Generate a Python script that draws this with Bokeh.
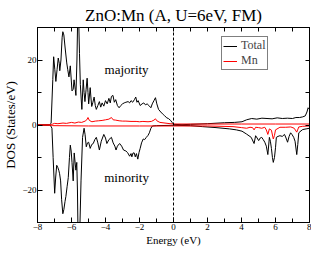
from bokeh.plotting import figure
from bokeh.models import Range1d, FixedTicker, LinearAxis, Span, Label, Legend, LegendItem
from bokeh.embed import file_html
from bokeh.resources import INLINE

title_text = "ZnO:Mn (A, U=6eV, FM)"
x_ticks = [-8, -6, -4, -2, 0, 2, 4, 6, 8]
x_minor = [-7, -5, -3, -1, 1, 3, 5, 7]
y_ticks = [-20, 0, 20]
y_minor = [-30, -10, 10, 30]

# Total DOS, majority spin
e_tot_up = [-8.0, -7.3, -7.2, -7.1, -7.05, -6.98, -6.92, -6.85, -6.78, -6.72, -6.69, -6.62, -6.55, -6.51,
            -6.45, -6.38, -6.28, -6.22, -6.15, -6.07, -5.97, -5.9, -5.85, -5.78, -5.74, -5.68, -5.64,
            -5.58, -5.53, -5.48, -5.43, -5.39, -5.31, -5.26, -5.21, -5.14, -5.08, -5.03, -4.99, -4.9,
            -4.85, -4.81, -4.74, -4.67, -4.6, -4.54, -4.45, -4.36, -4.28, -4.2, -4.1, -4.0, -3.9, -3.8,
            -3.72, -3.65, -3.56, -3.48, -3.4, -3.3, -3.2, -3.1, -3.0, -2.9, -2.8, -2.67, -2.58, -2.5,
            -2.4, -2.3, -2.22, -2.15, -2.08, -1.96, -1.85, -1.75, -1.65, -1.55, -1.45, -1.33, -1.25,
            -1.15, -1.06, -0.98, -0.88, -0.75, -0.6, -0.53, -0.4, -0.3, -0.17, -0.08, 0.0, 0.5, 1.0,
            2.0, 3.0, 3.6, 4.03, 4.3, 4.6, 4.9, 5.2, 5.5, 5.8, 6.1, 6.4, 6.7, 7.0, 7.2, 7.42, 7.6,
            7.75, 7.85, 7.92, 8.0]
dos_tot_up = [0, 0, 0.5, 14, 21, 17, 13.4, 17, 20.6, 19, 16.7, 20, 27, 28.7,
              27.7, 24, 19.1, 17, 14.8, 18.2, 10.5, 11, 13.9, 11, 9.1, 20, 32,
              33, 22, 12.5, 8, 4.8, 13.9, 10, 7.2, 11, 14.4, 10, 6.5, 11.5,
              8, 5.7, 7, 8.6, 6, 4.8, 6, 7.2, 5.5, 6.8, 5.8, 7.5, 6.5, 8.2,
              6.8, 8.8, 9.1, 7, 7.8, 6, 5.3, 6, 6.5, 6.8, 7, 7.2, 6.8, 7.5,
              7, 7.8, 8.6, 7, 7.5, 6, 6.5, 6.8, 6.2, 6.5, 6, 5.3, 6.5,
              7.5, 8.4, 6.5, 4.8, 4, 3.2, 2.9, 2.2, 2, 1.4, 0.8, 0.2, 0.1, 0.2,
              0.4, 0.7, 0.8, 1.0, 1.6, 2.0, 1.8, 2.1, 2.0, 1.9, 2.2, 2.0, 2.1, 2.0, 2.3, 2.3, 2.5,
              2.8, 4, 5.3, 4.8]

# Total DOS, minority spin
e_tot_dn = [-8.0, -7.25, -7.15, -7.08, -6.99, -6.93, -6.87, -6.81, -6.75, -6.7, -6.64, -6.58, -6.51,
            -6.45, -6.38, -6.33, -6.26, -6.19, -6.12, -6.07, -6.02, -5.97, -5.9, -5.84, -5.78, -5.74,
            -5.69, -5.65, -5.62, -5.51, -5.44, -5.35, -5.26, -5.2, -5.13, -5.06, -4.99, -4.9, -4.81,
            -4.72, -4.63, -4.54, -4.45, -4.36, -4.25, -4.1, -4.0, -3.92, -3.8, -3.65, -3.55, -3.45,
            -3.38, -3.3, -3.17, -3.05, -2.94, -2.8, -2.7, -2.58, -2.5, -2.45, -2.38, -2.31, -2.25,
            -2.18, -2.1, -2.03, -1.96, -1.88, -1.78, -1.7, -1.6, -1.5, -1.42, -1.33, -1.24, -1.0, 0.0,
            1.0, 1.7, 2.5, 3.3, 3.7, 4.03, 4.3, 4.57, 4.74, 4.83, 4.92, 5.01, 5.1, 5.19, 5.28, 5.37,
            5.46, 5.55, 5.64, 5.7, 5.76, 5.82, 5.87, 5.94, 6.0, 6.05, 6.15, 6.26, 6.4, 6.53, 6.62,
            6.71, 6.8, 6.89, 6.98, 7.07, 7.15, 7.25, 7.31, 7.37, 7.5, 7.6, 7.8, 8.0]
dos_tot_dn = [0, 0, -1, -10, -21, -16, -12.4, -13, -13.9, -15, -17.2, -23, -27.3,
              -26, -23.5, -22, -19, -16.2, -10, -6.2, -8, -11.5, -17.2, -8.6, -12, -13.9,
              -11.5, -20, -32, -32, -17.2, -3.8, -1, -3, -6.7, -5.5, -5.3, -7.2, -6,
              -5.7, -4.5, -3.8, -5.5, -7.7, -5, -2.9, -4, -5.7, -4.5, -3.8, -5.5, -6.5,
              -7.7, -6.5, -5.7, -6.5, -7.7, -8, -8.5, -9.6, -8.8, -9.8, -8.6, -8.6, -9.8,
              -8.8, -10.5, -8.5, -7.2, -5.5, -4.3, -4.5, -3.8, -3.2, -2.4, -1, -0.3, -0.2, -0.1,
              -0.2, -0.5, -0.8, -1.2, -1.5, -1.9, -2.8, -3.8, -5.7, -3.3, -4, -4.8, -4, -3.8, -4.5, -5.3,
              -6.5, -9.1, -3.8, -5, -7.2, -10, -11.5, -10, -7, -3.8, -3.5, -3.3, -3.5, -2.9, -4,
              -5.3, -3.5, -2.4, -3, -3.8, -5, -9.1, -6, -2.4, -1.8, -1.4, -1.2, -1.0]

# Mn projected DOS, majority spin
e_mn_up = [-8.0, -7.2, -7.1, -7.0, -6.8, -6.5, -6.3, -6.0, -5.8, -5.6, -5.4, -5.2, -5.1, -5.03,
           -4.95, -4.8, -4.6, -4.4, -4.2, -4.0, -3.8, -3.65, -3.55, -3.4, -3.2, -3.0, -2.8, -2.5,
           -2.2, -2.0, -1.8, -1.5, -1.3, -1.15, -1.06, -0.98, -0.8, -0.5, -0.2, 0.0, 1.0, 2.0,
           4.0, 6.0, 8.0]
dos_mn_up = [0, 0, 0.3, 0.5, 0.4, 0.6, 0.5, 0.8, 0.6, 0.9, 0.8, 1.2, 1.6, 2.3,
             1.4, 1.0, 1.2, 1.3, 1.4, 1.6, 1.8, 2.3, 1.6, 1.5, 1.3, 1.2, 1.2, 1.1,
             1.1, 1.0, 1.1, 1.0, 1.1, 1.5, 1.9, 1.3, 0.8, 0.6, 0.4, 0.3, 0.3, 0.3,
             0.3, 0.3, 0.3]

# Mn projected DOS, minority spin
e_mn_dn = [-8.0, -7.2, -7.1, -5.0, -2.0, 0.0, 2.0, 3.5, 4.0, 4.3, 4.5, 4.65, 4.74, 4.83, 5.0,
           5.19, 5.37, 5.46, 5.55, 5.64, 5.76, 5.87, 5.94, 6.0, 6.26, 6.6, 6.9, 7.1, 7.25, 7.37,
           7.6, 8.0]
dos_mn_dn = [0, 0, -0.2, -0.3, -0.3, -0.3, -0.3, -0.5, -0.8, -1.0, -0.7, -0.8, -1.5, -0.7, -0.8,
             -1.0, -0.7, -1.5, -2.9, -1.2, -1.6, -4.3, -3.2, -1.5, -0.7, -0.7, -0.6, -1.0, -2.2, -0.6,
             -0.4, -0.3]

SERIF = "Times New Roman"

p = figure(width=311, height=248, x_range=Range1d(-8, 8), y_range=Range1d(-30, 30),
           output_backend="svg", toolbar_location=None, title=title_text)
p.title.text_font = SERIF
p.title.text_font_size = "17px"
p.title.text_font_style = "normal"
p.title.align = "center"
p.title.text_color = "black"
p.title.standoff = 6
p.title.offset = 0

p.xgrid.visible = False
p.ygrid.visible = False
p.outline_line_color = "black"
p.outline_line_width = 1
p.min_border_left = 2
p.min_border_right = 2
p.min_border_top = 0
p.min_border_bottom = 0

p.xaxis.axis_label = "Energy (eV)"
p.yaxis.axis_label = "DOS (States/eV)"

for ax in p.xaxis:
    ax.ticker = FixedTicker(ticks=x_ticks, minor_ticks=x_minor)
for ax in p.yaxis:
    ax.ticker = FixedTicker(ticks=y_ticks, minor_ticks=y_minor)

for ax in list(p.xaxis) + list(p.yaxis):
    ax.axis_label_text_font = SERIF
    ax.axis_label_text_font_size = "11px"
    ax.axis_label_text_font_style = "normal"
    ax.axis_label_text_color = "black"
    ax.axis_label_standoff = 1
    ax.major_label_text_font = SERIF
    ax.major_label_text_font_size = "9px"
    ax.major_label_text_color = "black"
    ax.major_label_standoff = 1
    ax.major_tick_in = 5
    ax.major_tick_out = 0
    ax.minor_tick_in = 4
    ax.minor_tick_out = 0
    ax.axis_line_color = "black"
    ax.major_tick_line_color = "black"
    ax.minor_tick_line_color = "black"
for ax in p.yaxis:
    ax.axis_label_text_font_size = "13px"

# mirrored tick marks on the top and right edges (no labels)
top_ax = LinearAxis(ticker=FixedTicker(ticks=[], minor_ticks=x_ticks + x_minor))
right_ax = LinearAxis(ticker=FixedTicker(ticks=[], minor_ticks=y_ticks + y_minor))
for ax in (top_ax, right_ax):
    ax.major_tick_in = 0
    ax.major_tick_out = 0
    ax.minor_tick_in = 4
    ax.minor_tick_out = 0
    ax.major_label_standoff = 0
    ax.axis_line_color = "black"
    ax.minor_tick_line_color = "black"
p.add_layout(top_ax, "above")
p.add_layout(right_ax, "right")

p.add_layout(Span(location=0, dimension="height", line_color="black", line_width=1, line_dash="3 2"))

r_tot_up = p.line(e_tot_up, dos_tot_up, line_color="black", line_width=1)
r_tot_dn = p.line(e_tot_dn, dos_tot_dn, line_color="black", line_width=1)
r_mn_up = p.line(e_mn_up, dos_mn_up, line_color="red", line_width=1)
r_mn_dn = p.line(e_mn_dn, dos_mn_dn, line_color="red", line_width=1)

p.add_layout(Label(x=-2.76, y=17, text="majority", text_font=SERIF, text_font_size="13px",
                   text_align="center", text_baseline="middle", text_color="black"))
p.add_layout(Label(x=-2.76, y=-16, text="minority", text_font=SERIF, text_font_size="13px",
                   text_align="center", text_baseline="middle", text_color="black"))

legend = Legend(items=[LegendItem(label="Total", renderers=[r_tot_up]),
                       LegendItem(label="Mn", renderers=[r_mn_up])],
                location=(184, 152))
legend.label_text_font = SERIF
legend.label_text_font_size = "12px"
legend.label_height = 10
legend.glyph_height = 10
legend.glyph_width = 14
legend.label_standoff = 4
legend.spacing = 0
legend.padding = 1
legend.margin = 0
legend.border_line_color = "black"
legend.border_line_width = 1
legend.background_fill_alpha = 1
p.add_layout(legend)

open("out.html", "w").write(file_html(p, INLINE))
